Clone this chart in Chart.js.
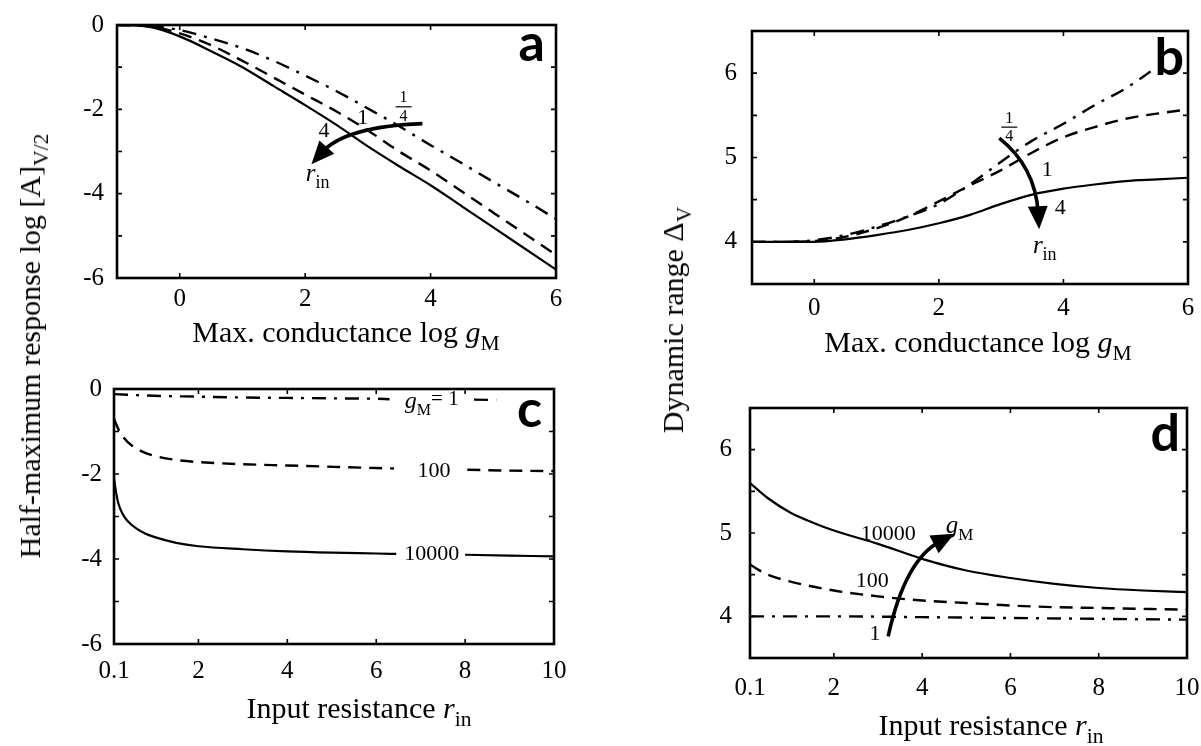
<!DOCTYPE html>
<html>
<head>
<meta charset="utf-8">
<script src="https://cdn.jsdelivr.net/npm/chart.js@4/dist/chart.umd.min.js"></script>
<style>
  body { margin: 0; background: #fff; }
  #page { position: relative; width: 1201px; height: 746px; overflow: hidden; background: #fff; }
  canvas { position: absolute; }
  .t { position: absolute; transform: translate(-50%, -50%); font: 30px "Liberation Serif"; line-height: 30px; white-space: nowrap; color: #000; }
  .v { transform: translate(-50%, -50%) rotate(-90deg); }
  sub { font-size: 0.72em; vertical-align: -0.38em; line-height: 0; }
</style>
</head>
<body>
<div id="page">
  <canvas id="ca"></canvas>
  <canvas id="cb"></canvas>
  <canvas id="cc"></canvas>
  <canvas id="cd"></canvas>
  <div class="t v" style="left:30px;top:346px">Half-maximum response log [A]<sub>V/2</sub></div>
  <div class="t v" style="left:673px;top:320px">Dynamic range &Delta;<sub>V</sub></div>
  <div class="t" style="left:346px;top:332px">Max. conductance log <i>g</i><sub>M</sub></div>
  <div class="t" style="left:978px;top:342px">Max. conductance log <i>g</i><sub>M</sub></div>
  <div class="t" style="left:359px;top:708px">Input resistance <i>r</i><sub>in</sub></div>
  <div class="t" style="left:991px;top:725px">Input resistance <i>r</i><sub>in</sub></div>
</div>
<script>
// panel a: log [A]_V/2 vs log gM for r_in = 4, 1, 1/4
const logG = [-1, -0.5, 0, 0.5, 1, 1.5, 2, 2.5, 3, 3.5, 4, 4.5, 5, 5.5, 6];
const aR4 = [0, -0.04, -0.27, -0.62, -1.0, -1.45, -1.9, -2.37, -2.88, -3.35, -3.8, -4.3, -4.8, -5.3, -5.8];
const aR1 = [0, -0.03, -0.2, -0.48, -0.85, -1.25, -1.65, -2.05, -2.5, -3.0, -3.45, -3.95, -4.45, -4.95, -5.45];
const aRq = [0, -0.02, -0.12, -0.32, -0.55, -0.85, -1.2, -1.57, -1.98, -2.4, -2.85, -3.28, -3.72, -4.15, -4.6];

// panel b: dynamic range vs log gM
const bR4 = [4, 4, 4.0, 4.03, 4.08, 4.14, 4.22, 4.32, 4.45, 4.56, 4.63, 4.68, 4.72, 4.74, 4.76];
const bR1 = [4, 4, 4.01, 4.06, 4.16, 4.3, 4.48, 4.67, 4.85, 5.06, 5.24, 5.36, 5.46, 5.52, 5.57];
const bRqX = [-1, -0.5, 0, 0.5, 1, 1.5, 2, 2.5, 3, 3.5, 4, 4.5, 5, 5.4];
const bRq = [4, 4, 4.02, 4.08, 4.18, 4.3, 4.45, 4.68, 4.95, 5.2, 5.4, 5.62, 5.82, 6.02];

// panel c: log [A]_V/2 vs r_in for gM = 1, 100, 10000 (null = gap for label)
const cG1X = [0.1, 1, 2, 3, 4, 5, 6, 6.3, 7, 8.2, 8.7];
const cG1 = [-0.12, -0.16, -0.18, -0.2, -0.21, -0.22, -0.23, -0.24, null, -0.25, -0.26];
const cG100X = [0.1, 0.2, 0.3, 0.5, 0.75, 1, 1.5, 2, 3, 4, 5, 6, 6.4, 7, 8.05, 9, 10];
const cG100 = [-0.7, -0.95, -1.12, -1.33, -1.48, -1.57, -1.67, -1.72, -1.77, -1.8, -1.83, -1.86, -1.87, null, -1.9, -1.92, -1.93];
const cG1e4X = [0.1, 0.15, 0.2, 0.3, 0.4, 0.6, 0.8, 1, 1.5, 2, 3, 4, 5, 6, 6.45, 7, 8, 9, 10];
const cG1e4 = [-2.1, -2.45, -2.7, -2.95, -3.1, -3.28, -3.4, -3.48, -3.62, -3.7, -3.77, -3.82, -3.85, -3.87, -3.88, null, -3.9, -3.92, -3.94];

// panel d: dynamic range vs r_in
const dG1e4X = [0.1, 0.5, 1, 1.5, 2, 3, 4, 5, 6, 7, 8, 9, 10];
const dG1e4 = [5.6, 5.42, 5.25, 5.13, 5.03, 4.87, 4.69, 4.55, 4.46, 4.39, 4.34, 4.31, 4.29];
const dG100X = [0.1, 0.5, 1, 2, 3, 4, 5, 6, 7, 8, 9, 10];
const dG100 = [4.62, 4.5, 4.42, 4.31, 4.24, 4.19, 4.16, 4.13, 4.11, 4.1, 4.09, 4.08];
const dG1X = [0.1, 2, 4, 6, 8, 10];
const dG1 = [4.0, 4.0, 3.99, 3.98, 3.97, 3.96];

// tick labels
const ticksLogG = [0, 2, 4, 6];
const ticksRin = [0.1, 2, 4, 6, 8, 10];
const ticksA = [-6, -4, -2, 0];
const ticksDelta = [4, 5, 6];

Chart.defaults.font.family = '"Liberation Serif", "Times New Roman", serif';
Chart.defaults.color = '#000';

const DASH = [13, 8];
const DASHDOT = [14, 8, 3, 8];

function pts(xs, ys) {
  return xs.map((x, i) => ({ x: x, y: ys[i] }));
}
function line(xs, ys, dash) {
  return {
    data: pts(xs, ys),
    borderColor: '#000',
    borderWidth: dash ? 2.4 : 2.2,
    borderDash: dash || [],
    pointRadius: 0,
    cubicInterpolationMode: 'monotone',
    fill: false
  };
}

function rich(ctx, parts, cx, cy) {
  let w = 0;
  parts.forEach(p => {
    ctx.font = (p.i ? 'italic ' : '') + p.s + 'px "Liberation Serif"';
    w += ctx.measureText(p.t).width;
  });
  let px = cx - w / 2;
  parts.forEach(p => {
    ctx.font = (p.i ? 'italic ' : '') + p.s + 'px "Liberation Serif"';
    ctx.fillText(p.t, px, cy + (p.dy || 0));
    px += ctx.measureText(p.t).width;
  });
}

const frame = {
  id: 'frame',
  afterDraw(chart, args, o) {
    const { ctx, chartArea: a, scales: { x, y } } = chart;
    ctx.save();
    ctx.strokeStyle = '#000';
    ctx.fillStyle = '#000';
    ctx.setLineDash([]);
    ctx.lineWidth = 2.6;
    ctx.strokeRect(a.left, a.top, a.right - a.left, a.bottom - a.top);
    ctx.lineWidth = 1.6;
    ctx.beginPath();
    o.yMarks.forEach(v => {
      const p = y.getPixelForValue(v);
      ctx.moveTo(a.left, p); ctx.lineTo(a.left + 5, p);
      ctx.moveTo(a.right, p); ctx.lineTo(a.right - 5, p);
    });
    o.xMarks.forEach(v => {
      const p = x.getPixelForValue(v);
      ctx.moveTo(p, a.bottom); ctx.lineTo(p, a.bottom - 5);
      ctx.moveTo(p, a.top); ctx.lineTo(p, a.top + 5);
    });
    ctx.stroke();

    ctx.textBaseline = 'middle';
    ctx.textAlign = 'left';
    o.notes.forEach(n => {
      if (n.k === 'frac') {
        const px = x.getPixelForValue(n.x), py = y.getPixelForValue(n.y);
        ctx.font = n.s + 'px "Liberation Serif"';
        ctx.textAlign = 'center';
        ctx.fillText(n.n, px, py - n.s * 0.55);
        ctx.fillText(n.d, px, py + n.s * 0.6);
        ctx.lineWidth = 1.2;
        ctx.beginPath(); ctx.moveTo(px - 8, py); ctx.lineTo(px + 8, py); ctx.stroke();
        ctx.textAlign = 'left';
      } else if (n.k === 'arrow') {
        const p0 = [x.getPixelForValue(n.p0[0]), y.getPixelForValue(n.p0[1])];
        const c = [x.getPixelForValue(n.c[0]), y.getPixelForValue(n.c[1])];
        const p1 = [x.getPixelForValue(n.p1[0]), y.getPixelForValue(n.p1[1])];
        const ang = Math.atan2(p1[1] - c[1], p1[0] - c[0]);
        const L = 23, W = 10;
        const ex = p1[0] - Math.cos(ang) * L * 0.7, ey = p1[1] - Math.sin(ang) * L * 0.7;
        ctx.lineWidth = 3.6;
        ctx.beginPath(); ctx.moveTo(p0[0], p0[1]); ctx.quadraticCurveTo(c[0], c[1], ex, ey); ctx.stroke();
        const bx = p1[0] - Math.cos(ang) * L, by = p1[1] - Math.sin(ang) * L;
        ctx.beginPath();
        ctx.moveTo(p1[0], p1[1]);
        ctx.lineTo(bx - Math.sin(ang) * W, by + Math.cos(ang) * W);
        ctx.lineTo(bx + Math.sin(ang) * W, by - Math.cos(ang) * W);
        ctx.closePath(); ctx.fill();
      } else {
        rich(ctx, n.parts, x.getPixelForValue(n.x), y.getPixelForValue(n.y));
      }
    });

    ctx.font = 'bold 52px Lato, "DejaVu Sans", sans-serif';
    ctx.textAlign = 'right';
    ctx.textBaseline = 'alphabetic';
    ctx.fillText(o.letter.t, a.right - o.letter.dx, a.top + o.letter.dy);
    ctx.restore();
  }
};

function panel(id, g, xs, ys, datasets, opts) {
  const cv = document.getElementById(id);
  const padL = 75, padT = 25, padR = 30, padB = 60;
  cv.width = g.R - g.L + padL + padR;
  cv.height = g.B - g.T + padT + padB;
  cv.style.left = (g.L - padL) + 'px';
  cv.style.top = (g.T - padT) + 'px';
  const tickFont = { size: 25 };
  new Chart(cv, {
    type: 'line',
    data: { datasets: datasets },
    options: {
      responsive: false,
      devicePixelRatio: 1,
      animation: false,
      events: [],
      layout: { padding: { left: 0, top: padT, right: padR, bottom: 0 } },
      plugins: { legend: { display: false }, tooltip: { enabled: false }, frame: opts },
      scales: {
        x: {
          type: 'linear', min: xs.min, max: xs.max,
          grid: { display: false, drawTicks: false }, border: { display: false },
          afterBuildTicks: s => { s.ticks = xs.ticks.map(v => ({ value: v })); },
          afterFit: s => { s.height = padB; },
          ticks: { font: tickFont, padding: xs.pad, maxRotation: 0, autoSkip: false }
        },
        y: {
          type: 'linear', min: ys.min, max: ys.max,
          grid: { display: false, drawTicks: false }, border: { display: false },
          afterBuildTicks: s => { s.ticks = ys.ticks.map(v => ({ value: v })); },
          afterFit: s => { s.width = padL; },
          ticks: { font: tickFont, padding: ys.pad, autoSkip: false }
        }
      }
    },
    plugins: [frame]
  });
}

const rin = [{ t: 'r', i: 1, s: 25 }, { t: 'in', s: 18, dy: 9 }];

panel('ca', { L: 117, T: 22, R: 556, B: 278 },
  { min: -1, max: 6, ticks: ticksLogG, pad: 6 },
  { min: -6, max: 0, ticks: ticksA, pad: 13 },
  [line(logG, aR4), line(logG, aR1, DASH), line(logG, aRq, DASHDOT)],
  {
    yMarks: [-5, -4, -3, -2, -1], xMarks: [0, 2, 4],
    letter: { t: 'a', dx: 11, dy: 36 },
    notes: [
      { k: 'arrow', p0: [3.87, -2.34], c: [2.64, -2.41], p1: [2.1, -3.3] },
      { k: 'frac', x: 3.57, y: -1.94, n: '1', d: '4', s: 16 },
      { x: 2.92, y: -2.2, parts: [{ t: '1', s: 22 }] },
      { x: 2.3, y: -2.53, parts: [{ t: '4', s: 22 }] },
      { x: 2.2, y: -3.55, parts: rin }
    ]
  });

panel('cb', { L: 752, T: 26, R: 1188, B: 284 },
  { min: -1, max: 6, ticks: ticksLogG, pad: 9 },
  { min: 3.5, max: 6.5, ticks: ticksDelta, pad: 15 },
  [line(logG, bR4), line(logG, bR1, DASH), line(bRqX, bRq, DASHDOT)],
  {
    yMarks: [4, 4.5, 5, 5.5, 6], xMarks: [0, 2, 4],
    letter: { t: 'b', dx: 4, dy: 44 },
    notes: [
      { k: 'arrow', p0: [2.97, 5.23], c: [3.55, 4.89], p1: [3.61, 4.15] },
      { k: 'frac', x: 3.13, y: 5.36, n: '1', d: '4', s: 16 },
      { x: 3.74, y: 4.85, parts: [{ t: '1', s: 22 }] },
      { x: 3.95, y: 4.4, parts: [{ t: '4', s: 22 }] },
      { x: 3.7, y: 3.95, parts: rin }
    ]
  });

panel('cc', { L: 114, T: 387, R: 554, B: 644 },
  { min: 0.1, max: 10, ticks: ticksRin, pad: 12 },
  { min: -6, max: 0, ticks: ticksA, pad: 12 },
  [line(cG1X, cG1, DASHDOT), line(cG100X, cG100, DASH), line(cG1e4X, cG1e4)],
  {
    yMarks: [-5, -4, -3, -2, -1], xMarks: [2, 4, 6, 8],
    letter: { t: 'c', dx: 12, dy: 38 },
    notes: [
      { x: 7.25, y: -0.3, parts: [{ t: 'g', i: 1, s: 24 }, { t: 'M', s: 16, dy: 9 }, { t: '= 1', s: 21, dy: -2 }] },
      { x: 7.3, y: -1.94, parts: [{ t: '100', s: 22 }] },
      { x: 7.25, y: -3.89, parts: [{ t: '10000', s: 22 }] }
    ]
  });

panel('cd', { L: 750, T: 400, R: 1187, B: 658 },
  { min: 0.1, max: 10, ticks: ticksRin, pad: 15 },
  { min: 3.5, max: 6.5, ticks: ticksDelta, pad: 18 },
  [line(dG1e4X, dG1e4), line(dG100X, dG100, DASH), line(dG1X, dG1, DASHDOT)],
  {
    yMarks: [4, 4.5, 5, 5.5, 6], xMarks: [2, 4, 6, 8],
    letter: { t: 'd', dx: 7, dy: 43 },
    notes: [
      { k: 'arrow', p0: [3.23, 3.76], c: [3.61, 4.68], p1: [4.73, 4.99] },
      { x: 3.23, y: 4.98, parts: [{ t: '10000', s: 22 }] },
      { x: 2.87, y: 4.42, parts: [{ t: '100', s: 22 }] },
      { x: 2.93, y: 3.78, parts: [{ t: '1', s: 22 }] },
      { x: 4.85, y: 5.08, parts: [{ t: 'g', i: 1, s: 25 }, { t: 'M', s: 17, dy: 9 }] }
    ]
  });
</script>
</body>
</html>
